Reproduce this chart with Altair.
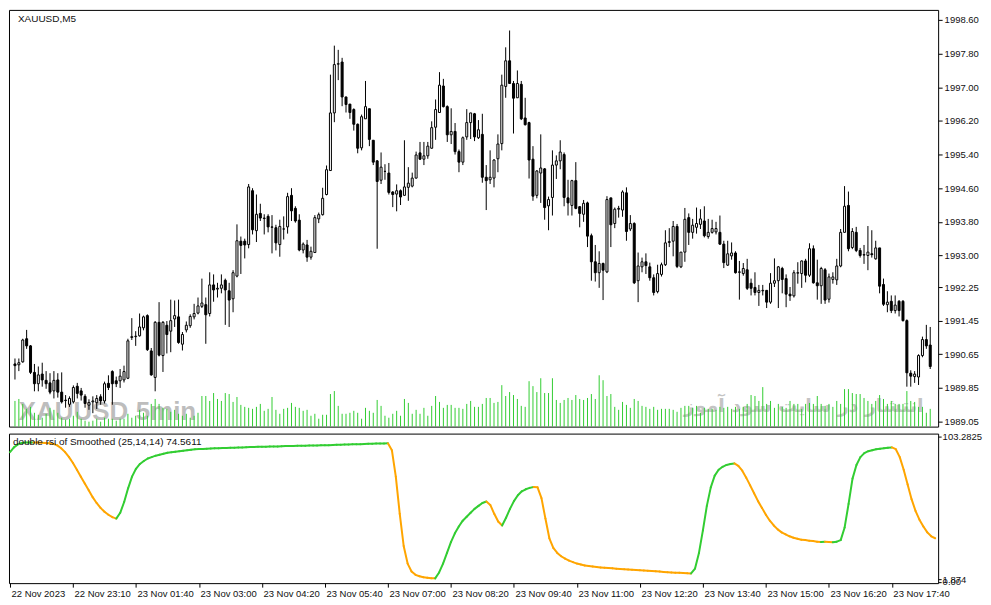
import altair as alt
import pandas as pd
import numpy as np

# ---------------- data ----------------
OPEN = [
    1990.42, 1990.40, 1990.47, 1991.02, 1990.85, 1990.22, 1989.95, 1990.18, 1990.03, 1989.97,
    1989.78, 1990.04, 1989.75, 1989.55, 1989.46, 1989.52, 1989.89, 1989.78, 1989.65, 1989.44,
    1989.52, 1989.50, 1989.64, 1989.54, 1989.96, 1990.24, 1990.02, 1990.02, 1990.04, 1990.08,
    1991.05, 1991.07, 1991.09, 1991.28, 1991.57, 1990.73, 1990.10, 1991.41, 1990.62, 1991.34,
    1991.20, 1991.49, 1991.54, 1990.89, 1991.23, 1991.33, 1991.54, 1991.63, 1991.79, 1991.83,
    1991.62, 1992.30, 1992.20, 1992.22, 1992.41, 1992.16, 1991.97, 1992.51, 1993.34, 1993.34,
    1993.26, 1994.54, 1993.59, 1994.00, 1993.88, 1993.93, 1993.67, 1993.66, 1993.26, 1993.63,
    1993.68, 1994.43, 1994.12, 1993.84, 1993.13, 1993.25, 1992.96, 1993.07, 1993.87, 1993.97,
    1994.45, 1995.02, 1996.39, 1997.55, 1997.60, 1996.77, 1996.60, 1996.47, 1996.12, 1995.56,
    1996.25, 1996.49, 1995.74, 1995.25, 1994.79, 1995.00, 1994.96, 1994.51, 1994.46, 1994.54,
    1994.43, 1994.62, 1994.65, 1994.84, 1995.44, 1995.29, 1995.37, 1995.55, 1996.05, 1996.40,
    1997.03, 1996.54, 1995.87, 1995.95, 1995.47, 1995.22, 1995.82, 1996.16, 1996.37, 1995.80,
    1995.88, 1994.86, 1994.80, 1994.84, 1995.30, 1995.66, 1997.02, 1997.63, 1997.09, 1996.75,
    1997.07, 1996.27, 1996.16, 1995.29, 1994.43, 1994.96, 1995.06, 1994.18, 1994.38, 1995.15,
    1995.25, 1995.40, 1994.37, 1994.19, 1994.78, 1994.16, 1993.98, 1994.25, 1993.47, 1992.85,
    1992.59, 1992.81, 1992.61, 1994.37, 1993.76, 1994.10, 1994.08, 1994.49, 1993.63, 1993.76,
    1992.40, 1992.73, 1992.85, 1992.73, 1992.47, 1992.14, 1992.55, 1992.78, 1993.31, 1993.34,
    1993.69, 1992.73, 1993.08, 1993.90, 1993.55, 1993.67, 1993.74, 1993.82, 1993.45, 1993.55,
    1993.56, 1993.55, 1993.27, 1992.77, 1992.99, 1993.06, 1992.60, 1992.57, 1992.66, 1992.34,
    1992.24, 1992.12, 1992.16, 1992.17, 1991.89, 1992.34, 1992.40, 1992.69, 1992.45, 1992.08,
    1992.04, 1992.58, 1992.57, 1992.87, 1992.53, 1993.16, 1992.35, 1992.28, 1992.66, 1991.96,
    1992.43, 1992.42, 1992.75, 1993.55, 1994.19, 1993.19, 1993.55, 1993.12, 1993.01, 1993.00,
    1993.04, 1992.92, 1993.18, 1992.31, 1991.83, 1991.91, 1991.69, 1991.91, 1991.91, 1991.45,
    1990.20, 1990.12, 1990.11, 1990.62, 1991.00, 1990.87,
]
CLOSE = [
    1990.38, 1990.45, 1990.99, 1990.85, 1990.22, 1989.95, 1990.16, 1990.04, 1989.95, 1989.75,
    1990.03, 1989.75, 1989.52, 1989.56, 1989.60, 1989.86, 1989.72, 1989.68, 1989.48, 1989.50,
    1989.54, 1989.60, 1989.54, 1989.95, 1989.86, 1989.95, 1989.95, 1990.13, 1990.24, 1990.97,
    1991.07, 1991.08, 1991.30, 1991.54, 1990.76, 1990.16, 1991.41, 1990.63, 1991.41, 1991.12,
    1991.45, 1991.57, 1990.93, 1991.12, 1991.34, 1991.55, 1991.62, 1991.80, 1991.87, 1991.59,
    1992.30, 1992.18, 1992.22, 1992.30, 1992.18, 1991.94, 1992.59, 1993.35, 1993.24, 1993.25,
    1994.63, 1993.61, 1993.98, 1993.89, 1993.89, 1993.68, 1993.68, 1993.30, 1993.69, 1993.63,
    1994.40, 1994.06, 1993.82, 1993.13, 1993.27, 1992.96, 1993.10, 1993.90, 1993.97, 1994.36,
    1995.04, 1996.39, 1997.54, 1997.56, 1996.77, 1996.59, 1996.40, 1996.12, 1995.55, 1996.30,
    1996.54, 1995.76, 1995.22, 1994.76, 1995.10, 1995.00, 1994.50, 1994.45, 1994.54, 1994.39,
    1994.63, 1994.72, 1994.84, 1995.39, 1995.29, 1995.37, 1995.60, 1996.04, 1996.47, 1997.05,
    1996.54, 1995.87, 1995.95, 1995.47, 1995.22, 1995.80, 1996.16, 1996.39, 1995.82, 1995.99,
    1994.86, 1994.78, 1994.86, 1995.27, 1995.65, 1997.05, 1997.63, 1997.09, 1996.74, 1997.09,
    1996.25, 1996.11, 1995.27, 1994.41, 1995.01, 1995.08, 1994.14, 1994.33, 1995.15, 1995.25,
    1995.46, 1994.38, 1994.25, 1994.78, 1994.12, 1994.00, 1994.24, 1993.46, 1992.85, 1992.59,
    1992.81, 1992.65, 1994.33, 1993.73, 1994.10, 1994.12, 1994.51, 1993.57, 1993.76, 1992.35,
    1992.75, 1992.85, 1992.76, 1992.47, 1992.12, 1992.57, 1992.78, 1993.30, 1993.33, 1993.69,
    1992.74, 1993.08, 1993.86, 1993.55, 1993.72, 1993.76, 1993.87, 1993.47, 1993.55, 1993.64,
    1993.64, 1993.27, 1992.83, 1993.04, 1993.06, 1992.59, 1992.61, 1992.69, 1992.22, 1992.22,
    1992.12, 1992.17, 1992.17, 1991.89, 1992.34, 1992.40, 1992.73, 1992.43, 1992.08, 1992.04,
    1992.59, 1992.59, 1992.87, 1992.53, 1993.16, 1992.35, 1992.28, 1992.69, 1991.94, 1992.49,
    1992.49, 1992.75, 1993.55, 1994.17, 1993.16, 1993.57, 1993.12, 1993.00, 1993.02, 1993.08,
    1993.02, 1993.18, 1992.27, 1991.84, 1991.89, 1991.69, 1991.82, 1991.69, 1991.45, 1990.21,
    1990.13, 1990.18, 1990.62, 1991.00, 1990.85, 1990.36,
]
HIGH = [
    1990.55, 1990.55, 1991.02, 1991.23, 1990.87, 1990.42, 1990.36, 1990.45, 1990.25, 1990.20,
    1990.25, 1990.20, 1990.22, 1989.68, 1989.65, 1989.91, 1989.97, 1989.85, 1989.70, 1989.58,
    1989.65, 1989.68, 1989.70, 1990.00, 1990.15, 1990.27, 1990.12, 1990.30, 1990.38, 1991.02,
    1991.51, 1991.20, 1991.62, 1991.57, 1991.60, 1990.80, 1991.44, 1991.89, 1991.44, 1991.44,
    1991.95, 1991.93, 1991.95, 1991.18, 1991.43, 1991.60, 1991.85, 1992.00, 1992.45, 1992.00,
    1992.60, 1992.55, 1992.35, 1992.55, 1992.45, 1992.35, 1992.65, 1993.74, 1993.45, 1993.40,
    1994.70, 1994.60, 1994.45, 1994.23, 1993.98, 1993.98, 1993.96, 1993.73, 1993.85, 1993.93,
    1994.49, 1994.60, 1994.17, 1993.98, 1993.31, 1993.37, 1993.21, 1993.96, 1994.02, 1994.61,
    1995.14, 1997.30, 1997.99, 1997.89, 1997.70, 1996.77, 1996.60, 1996.50, 1996.14, 1996.35,
    1997.15, 1996.49, 1995.74, 1995.27, 1995.45, 1995.17, 1995.20, 1994.53, 1994.69, 1994.57,
    1995.74, 1995.10, 1994.97, 1995.47, 1995.70, 1995.70, 1995.70, 1996.19, 1996.71, 1997.36,
    1997.20, 1996.57, 1996.50, 1996.15, 1995.52, 1995.83, 1996.48, 1996.39, 1996.39, 1996.22,
    1996.37, 1995.15, 1995.50, 1995.29, 1995.88, 1997.30, 1997.95, 1998.35, 1997.15, 1997.40,
    1997.15, 1996.75, 1996.18, 1995.60, 1995.03, 1995.88, 1995.08, 1994.40, 1995.50, 1995.38,
    1995.74, 1995.45, 1994.80, 1994.80, 1995.22, 1994.17, 1994.32, 1994.28, 1993.52, 1993.25,
    1993.10, 1992.83, 1994.41, 1994.37, 1994.14, 1994.18, 1994.55, 1994.62, 1993.96, 1993.79,
    1993.07, 1992.95, 1993.05, 1992.83, 1992.55, 1992.78, 1992.83, 1993.60, 1993.65, 1993.82,
    1993.75, 1993.08, 1994.13, 1994.00, 1993.87, 1994.14, 1994.10, 1994.17, 1993.87, 1993.85,
    1993.80, 1993.95, 1993.35, 1993.35, 1993.31, 1993.10, 1992.87, 1992.82, 1992.92, 1992.45,
    1992.60, 1992.30, 1992.30, 1992.18, 1992.58, 1992.93, 1992.75, 1992.73, 1992.55, 1992.25,
    1992.65, 1992.84, 1992.88, 1992.92, 1993.29, 1993.24, 1992.90, 1992.73, 1992.70, 1992.57,
    1992.60, 1992.92, 1993.63, 1994.65, 1994.52, 1993.65, 1993.68, 1993.18, 1993.25, 1993.70,
    1993.60, 1993.35, 1993.18, 1992.45, 1992.15, 1992.05, 1992.05, 1991.94, 1991.94, 1991.48,
    1990.27, 1990.25, 1990.65, 1991.07, 1991.35, 1991.30,
]
LOW = [
    1990.05, 1990.25, 1990.45, 1990.78, 1990.18, 1989.77, 1989.77, 1989.88, 1989.83, 1989.70,
    1989.60, 1989.62, 1989.48, 1989.38, 1989.40, 1989.48, 1989.60, 1989.55, 1989.38, 1989.33,
    1989.25, 1989.35, 1989.45, 1989.48, 1989.80, 1989.45, 1989.87, 1989.85, 1989.98, 1990.06,
    1990.99, 1990.85, 1991.07, 1991.22, 1990.73, 1990.14, 1989.77, 1990.60, 1990.23, 1990.67,
    1990.70, 1991.30, 1990.90, 1990.74, 1991.17, 1991.28, 1991.48, 1991.60, 1991.75, 1990.90,
    1991.55, 1991.90, 1992.00, 1992.10, 1991.35, 1991.30, 1991.65, 1992.48, 1992.56, 1992.93,
    1993.17, 1993.50, 1993.32, 1993.82, 1993.50, 1993.55, 1993.05, 1993.12, 1992.97, 1993.38,
    1993.52, 1993.82, 1993.78, 1993.10, 1993.05, 1992.85, 1992.90, 1993.07, 1993.77, 1993.95,
    1994.43, 1995.02, 1996.17, 1997.17, 1996.55, 1996.40, 1996.25, 1995.97, 1995.43, 1995.50,
    1996.25, 1995.60, 1995.15, 1993.16, 1994.70, 1994.80, 1994.45, 1994.15, 1994.05, 1994.20,
    1994.43, 1994.30, 1994.62, 1994.83, 1995.27, 1995.15, 1995.30, 1995.54, 1995.75, 1996.40,
    1996.52, 1995.70, 1995.65, 1995.40, 1994.98, 1995.15, 1995.75, 1995.77, 1995.72, 1995.77,
    1994.73, 1994.08, 1994.70, 1994.62, 1994.98, 1995.50, 1996.75, 1997.09, 1995.90, 1996.75,
    1996.22, 1996.09, 1994.83, 1994.30, 1994.36, 1994.25, 1993.85, 1993.60, 1993.95, 1994.82,
    1995.05, 1994.17, 1993.95, 1993.95, 1994.10, 1993.67, 1993.80, 1993.20, 1992.40, 1992.38,
    1992.23, 1991.94, 1992.58, 1993.20, 1993.65, 1993.90, 1993.92, 1993.35, 1993.58, 1992.32,
    1991.89, 1992.60, 1992.56, 1992.40, 1992.05, 1992.10, 1992.50, 1992.75, 1993.20, 1992.98,
    1992.70, 1992.70, 1992.85, 1993.25, 1993.40, 1993.52, 1993.63, 1993.43, 1993.40, 1993.52,
    1993.50, 1993.25, 1992.70, 1992.75, 1992.90, 1992.57, 1991.95, 1992.52, 1992.18, 1992.05,
    1992.05, 1991.80, 1992.05, 1991.75, 1991.85, 1992.25, 1991.75, 1992.10, 1991.77, 1991.92,
    1992.00, 1992.33, 1992.23, 1992.36, 1992.49, 1992.33, 1991.95, 1991.85, 1991.85, 1991.88,
    1992.33, 1992.30, 1992.72, 1993.55, 1993.10, 1993.15, 1993.08, 1992.95, 1992.80, 1992.65,
    1992.95, 1992.90, 1992.10, 1991.80, 1991.65, 1991.63, 1991.62, 1991.55, 1991.43, 1989.88,
    1989.88, 1989.97, 1989.92, 1990.58, 1990.78, 1990.30,
]
VOLUME = [
    260, 280, 230, 180, 200, 140, 120, 90, 130, 190,
    170, 140, 90, 70, 80, 110, 150, 80, 60, 50,
    60, 80, 50, 90, 80, 80, 60, 80, 80, 130,
    90, 110, 170, 140, 110, 230, 280, 230, 190, 180,
    150, 170, 130, 110, 130, 90, 110, 140, 310, 310,
    260, 340, 280, 260, 340, 330, 250, 300, 220, 200,
    190, 180, 200, 230, 160, 180, 300, 170, 130, 180,
    190, 240, 200, 190, 160, 170, 110, 130, 80, 120,
    120, 330, 360, 210, 130, 130, 140, 160, 140, 80,
    190, 160, 140, 270, 210, 110, 90, 130, 160, 110,
    280, 240, 130, 170, 130, 190, 110, 210, 310, 250,
    190, 220, 220, 190, 190, 180, 230, 260, 200, 200,
    230, 290, 290, 240, 250, 420, 310, 350, 320, 280,
    210, 200, 460, 410, 350, 490, 340, 340, 490, 270,
    240, 270, 290, 270, 320, 280, 270, 290, 330, 280,
    520, 470, 310, 330, 200, 170, 250, 220, 190, 280,
    260, 210, 200, 180, 200, 170, 180, 180, 180, 170,
    150, 190, 210, 210, 190, 210, 140, 190, 180, 180,
    170, 200, 190, 200, 180, 200, 180, 200, 230, 320,
    310, 260, 400, 230, 260, 190, 230, 200, 190, 260,
    230, 230, 180, 230, 240, 230, 310, 230, 210, 230,
    200, 260, 230, 380, 380, 340, 330, 330, 290, 260,
    230, 260, 320, 280, 230, 260, 230, 230, 230, 360,
    260, 250, 200, 200, 140, 180,
]
IND = [
    92.2, 95.6, 97.7, 98.8, 99.1, 99.1, 99.1, 99.0, 98.9, 98.8,
    98.6, 98.1, 97.0, 95.0, 92.2, 88.7, 84.5, 79.7, 74.8, 69.9,
    65.1, 60.2, 56.1, 52.6, 49.8, 47.7, 46.0, 45.0, 49.1, 56.8,
    66.5, 74.8, 80.4, 83.8, 85.9, 87.7, 88.7, 89.7, 90.4, 91.1,
    91.8, 92.2, 92.5, 92.9, 93.2, 93.6, 93.9, 94.3, 94.4, 94.5,
    94.7, 94.8, 94.9, 95.0, 95.1, 95.2, 95.3, 95.4, 95.5, 95.6,
    95.7, 95.8, 95.9, 96.0, 96.0, 96.1, 96.2, 96.3, 96.3, 96.4,
    96.5, 96.5, 96.6, 96.7, 96.7, 96.8, 96.9, 96.9, 97.0, 97.1,
    97.1, 97.2, 97.3, 97.4, 97.5, 97.6, 97.7, 97.8, 97.8, 97.9,
    98.0, 98.1, 98.2, 98.3, 98.4, 98.4, 98.5, 93.6, 74.8, 48.4,
    25.5, 13.0, 7.4, 5.0, 4.0, 3.3, 2.9, 2.6, 2.5, 6.7,
    13.0, 20.6, 28.3, 34.5, 39.4, 43.5, 46.3, 49.1, 51.9, 54.0,
    56.1, 57.1, 54.7, 48.4, 42.9, 40.1, 45.6, 51.9, 57.4, 61.6,
    64.4, 65.8, 66.8, 67.5, 67.2, 59.5, 45.0, 31.0, 24.1, 20.6,
    18.2, 16.5, 15.1, 14.0, 13.0, 12.3, 11.6, 11.3, 10.9, 10.6,
    10.2, 10.0, 9.8, 9.6, 9.4, 9.2, 9.0, 8.8, 8.6, 8.5,
    8.3, 8.1, 7.9, 7.7, 7.5, 7.3, 7.1, 6.9, 6.7, 6.5,
    6.4, 6.3, 6.2, 6.0, 9.5, 20.6, 36.6, 54.0, 67.2, 75.5,
    79.7, 81.8, 83.1, 83.8, 84.2, 82.4, 79.0, 74.1, 68.6, 63.0,
    57.4, 52.6, 47.7, 43.5, 40.1, 37.3, 35.2, 33.8, 32.4, 31.4,
    30.7, 30.0, 29.7, 29.3, 29.0, 28.6, 28.3, 28.6, 28.3, 28.2,
    28.6, 29.7, 38.7, 55.4, 73.4, 83.1, 88.7, 91.5, 92.9, 93.6,
    94.3, 94.6, 95.0, 95.3, 95.6, 94.3, 88.7, 79.7, 69.3, 58.8,
    50.5, 44.2, 39.4, 35.2, 32.4, 31.0,
]
TICK_LABELS = [
    "22 Nov 2023", "22 Nov 23:10", "23 Nov 01:40", "23 Nov 03:00", "23 Nov 04:20",
    "23 Nov 05:40", "23 Nov 07:00", "23 Nov 08:20", "23 Nov 09:40", "23 Nov 11:00",
    "23 Nov 12:20", "23 Nov 13:40", "23 Nov 15:00", "23 Nov 16:20", "23 Nov 17:40",
]
PRICE_TICKS = [1998.60, 1997.80, 1997.00, 1996.20, 1995.40, 1994.60, 1993.80,
               1993.00, 1992.25, 1991.45, 1990.65, 1989.85, 1989.05]
IND_TICKS = [103.2825, 1.874, 0.0]
SYMBOL_TITLE = "XAUUSD,M5"
IND_TITLE = "double rsi of Smoothed (25,14,14) 74.5611"

# ---------------- build tables ----------------
n = len(CLOSE)
idx = list(range(n))
df = pd.DataFrame({"i": idx, "open": OPEN, "high": HIGH, "low": LOW,
                   "close": CLOSE, "volume": VOLUME})
df["dir"] = np.where(df["close"] >= df["open"], "up", "down")
df["zero"] = 0

seg = pd.DataFrame({"i0": idx[:-1], "i1": idx[1:], "v0": IND[:-1], "v1": IND[1:]})
seg["dir"] = np.where(seg["v1"] >= seg["v0"], "up", "down")

FONT = "Liberation Sans"
W = 932
H_MAIN = 418
H_IND = 150
XDOM = [-0.25, n - 0.25]
PDOM = [1988.93, 1998.84]
IDOM = [-0.9, 105.4]

xs = alt.Scale(domain=XDOM, nice=False, zero=False)
ps = alt.Scale(domain=PDOM, nice=False, zero=False)
vs = alt.Scale(domain=[0, 4220], nice=False, zero=False)
iscale = alt.Scale(domain=IDOM, nice=False, zero=False)

X_none = alt.X("i:Q", scale=xs, axis=None)

price_axis = alt.Axis(orient="right", values=PRICE_TICKS, format=".2f",
                      tickSize=4, labelPadding=2, labelOverlap=False,
                      labelFlush=False, title=None)

wm_df = pd.DataFrame({"i": [1, 31], "p": [1989.08, 1989.08], "t": ["XAUUSD", "5min"]})
wm = alt.Chart(wm_df).mark_text(
    font=FONT, fontWeight="bold", fontSize=26,
    align="left", baseline="alphabetic", color="#bdbdbd"
).encode(x=X_none, y=alt.Y("p:Q", scale=ps, axis=None), text="t:N")

fa_df = pd.DataFrame({"i": [202.5], "p": [1989.27], "t": ["انتشار در سایت سود آموز"]})
fa = alt.Chart(fa_df).mark_text(
    font="DejaVu Sans", fontWeight="bold", fontSize=19, align="center",
    baseline="alphabetic", color="#c4c4c4"
).encode(x=X_none, y=alt.Y("p:Q", scale=ps, axis=None), text="t:N")

vol = alt.Chart(df).mark_rule(color="#32CD32", strokeWidth=1).encode(
    x=X_none, y=alt.Y("volume:Q", scale=vs, axis=None), y2="zero:Q")

wick = alt.Chart(df).mark_rule(color="black", strokeWidth=1).encode(
    x=X_none, y=alt.Y("low:Q", scale=ps, axis=price_axis), y2="high:Q")

body = alt.Chart(df).mark_bar(width=2, stroke="black", strokeWidth=1).encode(
    x=X_none, y=alt.Y("open:Q", scale=ps, axis=None), y2="close:Q",
    fill=alt.Fill("dir:N", scale=alt.Scale(domain=["up", "down"], range=["white", "black"]),
                  legend=None))

ttl_df = pd.DataFrame({"i": [XDOM[0]], "p": [PDOM[1]], "t": [SYMBOL_TITLE]})
ttl = alt.Chart(ttl_df).mark_text(font=FONT, fontSize=10, align="left", baseline="top",
                                  dx=4, dy=4, color="#111111").encode(
    x=X_none, y=alt.Y("p:Q", scale=ps, axis=None), text="t:N")

main = alt.layer(wm, fa, vol, wick, body, ttl).resolve_scale(y="independent").properties(
    width=W, height=H_MAIN)

label_expr_x = "[" + ",".join("'" + t + "'" for t in TICK_LABELS) + "][round(datum.value/16)]"
x_axis = alt.Axis(values=[16 * k for k in range(len(TICK_LABELS))], labelExpr=label_expr_x,
                  tickSize=4, labelAlign="left", labelBaseline="top", labelPadding=1,
                  labelOffset=1, labelOverlap=False, labelFlush=False, title=None)

ind_axis = alt.Axis(orient="right", values=IND_TICKS,
                    labelExpr="datum.value > 100 ? '103.2825' : (datum.value > 1 ? '1.874' : '0.00')",
                    tickSize=3, labelPadding=1, labelOverlap=False, labelFlush=False, title=None)

line = alt.Chart(seg).mark_rule(strokeWidth=2, strokeCap="round").encode(
    x=alt.X("i0:Q", scale=xs, axis=x_axis), x2="i1:Q",
    y=alt.Y("v0:Q", scale=iscale, axis=ind_axis), y2="v1:Q",
    color=alt.Color("dir:N", scale=alt.Scale(domain=["up", "down"], range=["#32CD32", "#FFA500"]),
                    legend=None))

ind_lbl_df = pd.DataFrame({"i0": [XDOM[0]], "v0": [IDOM[1]], "t": [IND_TITLE]})
ind_lbl = alt.Chart(ind_lbl_df).mark_text(font=FONT, fontSize=10, align="left", baseline="top",
                                          dx=4, dy=3, color="#111111").encode(
    x=alt.X("i0:Q", scale=xs, axis=x_axis), y=alt.Y("v0:Q", scale=iscale, axis=ind_axis),
    text="t:N")

indp = alt.layer(line, ind_lbl).properties(width=W, height=H_IND)

chart = alt.vconcat(main, indp, spacing=3, padding=0).properties(
    background="white"
).configure(padding=0).configure_view(stroke="black", strokeWidth=1).configure_axis(
    labelFont=FONT, labelFontSize=9.5, labelColor="#111111", tickColor="black",
    domain=False, grid=False
)

chart.save("out.html", embed_options={"renderer": "svg", "actions": False})
